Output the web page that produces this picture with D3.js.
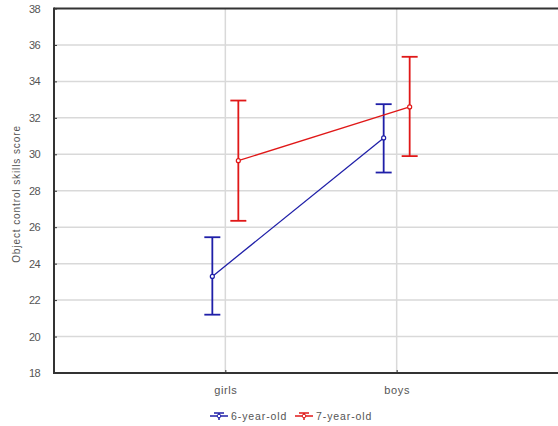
<!DOCTYPE html>
<html><head><meta charset="utf-8">
<script src="https://cdn.jsdelivr.net/npm/d3@7"></script>
<style>body{margin:0;background:#fff}svg{display:block}text{font-family:"Liberation Sans",Arial,sans-serif}</style>
</head><body>
<script>
const categories = ["girls", "boys"];
const seriesNames = ["6-year-old", "7-year-old"];
const means6 = [23.3, 30.9];
const lower6 = [21.2, 29.0];
const upper6 = [25.45, 32.75];
const means7 = [29.65, 32.6];
const lower7 = [26.35, 29.9];
const upper7 = [32.95, 35.35];
const yTicks = [18, 20, 22, 24, 26, 28, 30, 32, 34, 36, 38];
const colors = ["#1f1fa8", "#e01818"];

const W = 558, H = 426;
const m = {left: 54, top: 8.5, right: 568, bottom: 373};
const svg = d3.select("body").append("svg").attr("width", W).attr("height", H);

const x = d3.scalePoint().domain(categories).range([m.left, m.right]).padding(1);
const y = d3.scaleLinear().domain([18, 38]).range([m.bottom, m.top]);
const offsets = [-13, 13];

// grid
svg.append("g").selectAll("line").data(yTicks.slice(1, -1)).join("line")
  .attr("x1", m.left).attr("x2", W).attr("y1", d => y(d)).attr("y2", d => y(d))
  .attr("stroke", "#d9d9d9").attr("stroke-width", 1.5);
svg.append("g").selectAll("line").data(categories).join("line")
  .attr("x1", d => x(d)).attr("x2", d => x(d)).attr("y1", m.top).attr("y2", m.bottom)
  .attr("stroke", "#d9d9d9").attr("stroke-width", 1.5);

// axes
const yAxis = d3.axisLeft(y).tickValues(yTicks).tickSize(-3).tickPadding(14);
const gy = svg.append("g").attr("transform", `translate(${m.left},0)`).call(yAxis);
gy.select(".domain").remove();
gy.selectAll("line").attr("stroke", "#333");
gy.selectAll("text").attr("fill", "#555").attr("font-size", 11).attr("letter-spacing", -0.6);

const xAxis = d3.axisBottom(x).tickSize(-3).tickPadding(13);
const gx = svg.append("g").attr("transform", `translate(0,${m.bottom})`).call(xAxis);
gx.select(".domain").remove();
gx.selectAll("line").attr("stroke", "#333");
gx.selectAll("text").attr("fill", "#555").attr("font-size", 11).attr("letter-spacing", 0.6);

// frame
svg.append("line").attr("x1", m.left).attr("x2", W).attr("y1", m.top).attr("y2", m.top).attr("stroke", "#333").attr("stroke-width", 2);
svg.append("line").attr("x1", m.left).attr("x2", W).attr("y1", m.bottom).attr("y2", m.bottom).attr("stroke", "#333").attr("stroke-width", 2);
svg.append("line").attr("x1", m.left).attr("x2", m.left).attr("y1", m.top - 1).attr("y2", m.bottom + 1).attr("stroke", "#333").attr("stroke-width", 2);

// y title
svg.append("text").attr("transform", `translate(19.5,194) rotate(-90)`)
  .attr("text-anchor", "middle").attr("fill", "#555").attr("font-size", 10).attr("letter-spacing", 0.9)
  .text("Object control skills score");

const series = [
  {name: seriesNames[0], mean: means6, lo: lower6, hi: upper6, color: colors[0], off: offsets[0]},
  {name: seriesNames[1], mean: means7, lo: lower7, hi: upper7, color: colors[1], off: offsets[1]}
];

series.forEach(s => {
  const g = svg.append("g");
  const pts = categories.map((c, i) => ({x: x(c) + s.off, m: s.mean[i], lo: s.lo[i], hi: s.hi[i]}));
  g.append("path").attr("d", d3.line().x(d => d.x).y(d => y(d.m))(pts))
    .attr("fill", "none").attr("stroke", s.color).attr("stroke-width", 1.3);
  pts.forEach(p => {
    g.append("line").attr("x1", p.x).attr("x2", p.x).attr("y1", y(p.hi)).attr("y2", y(p.lo)).attr("stroke", s.color).attr("stroke-width", 1.8);
    [p.hi, p.lo].forEach(v => g.append("line").attr("x1", p.x - 8).attr("x2", p.x + 8).attr("y1", y(v)).attr("y2", y(v))
      .attr("stroke", s.color).attr("stroke-width", 1.8));
    g.append("circle").attr("cx", p.x).attr("cy", y(p.m)).attr("r", 2).attr("fill", "#fff").attr("stroke", s.color).attr("stroke-width", 1.2);
  });
});

// legend
const legY = 416;
const legX = [210, 295];
series.forEach((s, i) => {
  const g = svg.append("g").attr("transform", `translate(${legX[i]},${legY})`);
  g.append("line").attr("x1", 0).attr("x2", 18).attr("y1", 0).attr("y2", 0).attr("stroke", s.color).attr("stroke-width", 1.5);
  g.append("line").attr("x1", 4).attr("x2", 14).attr("y1", -3).attr("y2", -3).attr("stroke", s.color).attr("stroke-width", 1.5);
  g.append("line").attr("x1", 9).attr("x2", 9).attr("y1", -3).attr("y2", 4).attr("stroke", s.color).attr("stroke-width", 1.5);
  g.append("circle").attr("cx", 9).attr("cy", 0).attr("r", 1.8).attr("fill", "#fff").attr("stroke", s.color);
  g.append("text").attr("x", 21).attr("y", 4).attr("fill", "#555").attr("font-size", 10.5).attr("letter-spacing", 0.9).text(s.name);
});
</script>
</body></html>
